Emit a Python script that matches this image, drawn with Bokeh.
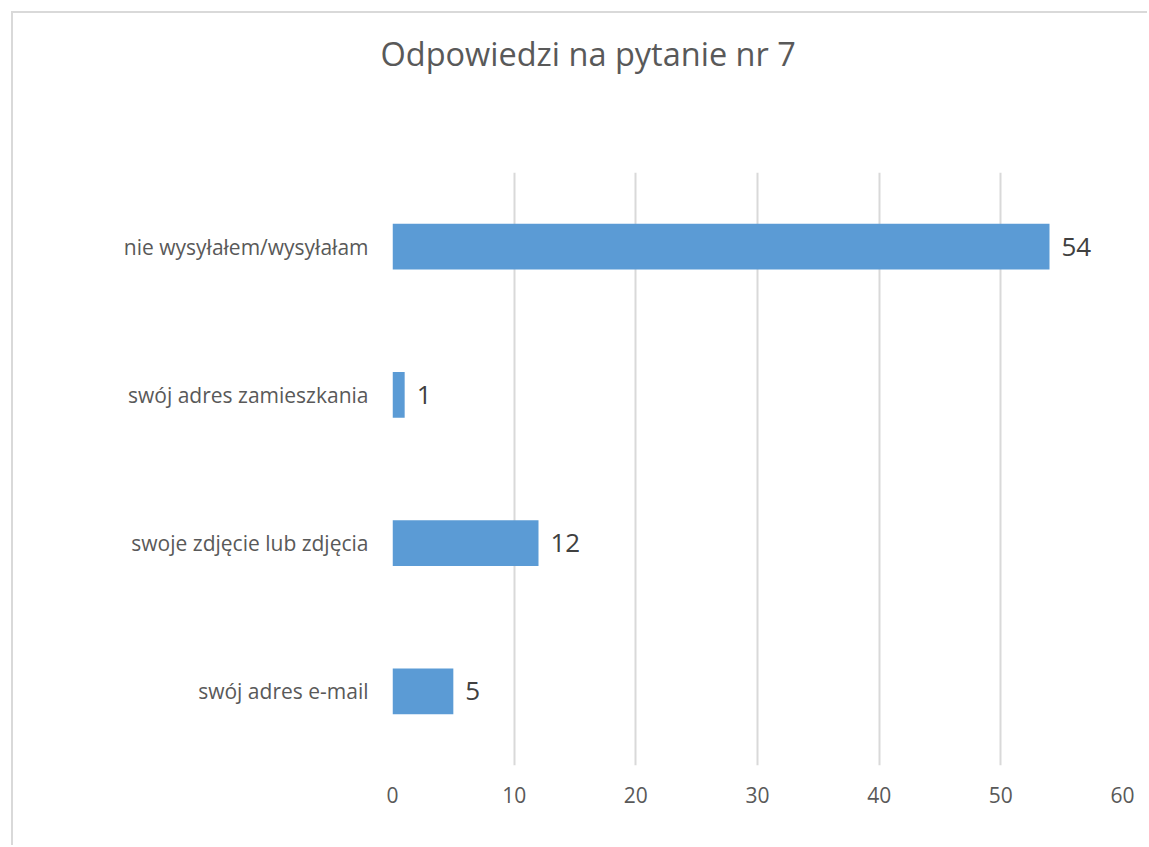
from bokeh.plotting import figure
from bokeh.models import FactorRange, Range1d, ColumnDataSource, FixedTicker, Title
from bokeh.core.properties import value
from bokeh.embed import file_html
from bokeh.resources import INLINE

categories = ["swój adres e-mail", "swoje zdjęcie lub zdjęcia",
              "swój adres zamieszkania", "nie wysyłałem/wysyłałam"]
counts = [5, 12, 1, 54]
x_ticks = [0, 10, 20, 30, 40, 50, 60]
title_text = "Odpowiedzi na pytanie nr 7"

FONT = "Open Sans"
src = ColumnDataSource(dict(cat=categories, val=counts, lab=[str(v) for v in counts]))

p = figure(width=1136, height=834, y_range=FactorRange(*categories, range_padding=0),
           x_range=Range1d(0, 60), output_backend="svg", toolbar_location=None,
           min_border_left=379, min_border_right=27, min_border_top=159, min_border_bottom=82)
p.outline_line_color = None
p.background_fill_color = "white"
p.border_fill_color = "white"

p.hbar(y="cat", right="val", left=0, height=0.31, source=src, color="#5b9bd5", line_color=None)
p.text(x="val", y="cat", text="lab", source=src, x_offset=12, text_baseline="middle",
       text_align="left", text_font=value(FONT), text_font_size="26px", text_color="#404040")

p.xaxis.ticker = FixedTicker(ticks=x_ticks)
p.xaxis.axis_line_color = None
p.xaxis.major_tick_line_color = None
p.xaxis.minor_tick_line_color = None
p.xaxis.major_label_text_font = FONT
p.xaxis.major_label_text_font_size = "21px"
p.xaxis.major_label_text_color = "#595959"
p.xaxis.major_label_standoff = 15

p.yaxis.axis_line_color = None
p.yaxis.major_tick_line_color = None
p.yaxis.major_label_text_font = FONT
p.yaxis.major_label_text_font_size = "21px"
p.yaxis.major_label_text_color = "#595959"
p.yaxis.major_label_standoff = 18

p.xgrid.grid_line_color = "#d9d9d9"
p.xgrid.grid_line_width = 2
p.ygrid.grid_line_color = None

# real title (outermost), plus an invisible spacer title between it and the frame
p.title = Title(text=title_text, align="left", offset=-12, standoff=0,
                text_font=FONT, text_font_size="32.5px", text_font_style="normal",
                text_color="#595959")
p.add_layout(Title(text=" ", text_font_size="20px", standoff=73), "above")

p.styles = {"margin-left": "13px", "margin-top": "13px",
            "box-shadow": "-2px -2px 0px 0px #d9d9d9"}

open("out.html", "w").write(file_html(p, INLINE))
